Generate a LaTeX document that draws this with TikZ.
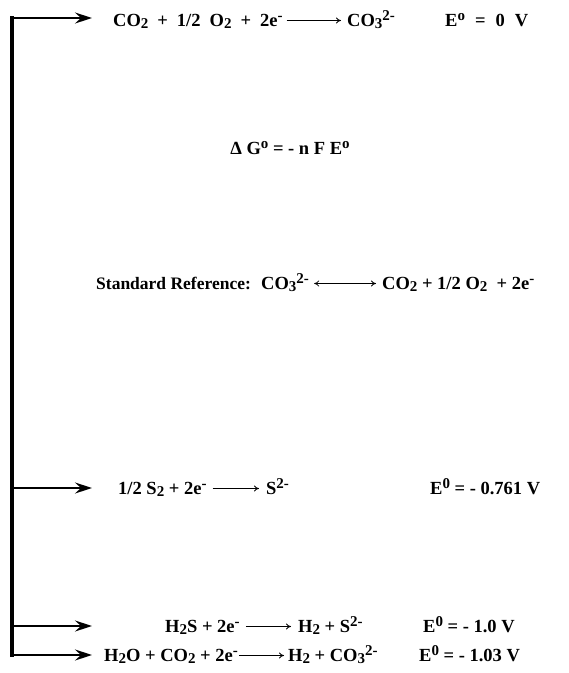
\documentclass[tikz,border=0pt]{standalone}
\usepackage{fontspec}
\setmainfont{Liberation Serif}
\usetikzlibrary{arrows.meta}
\newcommand\dn[1]{\raisebox{-0.35ex}{\fontsize{15}{15}\selectfont #1}}
\newcommand\up[1]{\raisebox{0.6ex}{\fontsize{15}{15}\selectfont #1}}
\newcommand\wsp{\spaceskip=9pt plus 2pt\relax}
\begin{document}
\begin{tikzpicture}[x=1pt,y=-1pt,
  txt/.style={font=\bfseries\fontsize{18.5}{22}\selectfont, inner sep=0pt, anchor=base west},
  branch/.style={line width=2pt, -{Stealth[length=17pt,width=11pt,inset=6pt]}},
  trunk/.style={line width=4pt},
  rxn/.style={line width=0.8pt, -{To[length=5pt,width=6pt]}},
  rxnb/.style={line width=0.8pt, {To[length=5pt,width=6pt]}-{To[length=5pt,width=6pt]}}]
\useasboundingbox (0,0) rectangle (569,673);
% trunk
\coordinate (ttop) at (12,16);
\coordinate (tbot) at (12,657);
\coordinate (b1) at (12,18);
\coordinate (b2) at (12,488);
\coordinate (b3) at (12,626);
\coordinate (b4) at (12,655);
\coordinate (h1) at (92,18);
\coordinate (h2) at (92,488);
\coordinate (h3) at (92,626);
\coordinate (h4) at (92,655);
\draw[trunk] (ttop) -- (tbot);
\draw[branch] (b1) -- (h1);
\draw[branch] (b2) -- (h2);
\draw[branch] (b3) -- (h3);
\draw[branch] (b4) -- (h4);
% row 1
\node[txt] (l1) at (113,26) {\wsp CO\dn{2} + 1/2 O\dn{2} + 2e\up{-}};
\node[txt] (r1) at (347,26) {CO\dn{3}\up{2-}};
\node[txt] (e1) at (445,26) {\spaceskip=10pt plus 2pt\relax E\up{o} = 0 V};
\draw[rxn] ([shift={(4,-5.5)}]l1.base east) -- ([shift={(-6,-5.5)}]r1.base west);
% Delta G
\node[txt, anchor=base] (dg) at (290,154) {Δ G\up{o} = - n F E\up{o}};
% standard reference
\node[txt, font=\bfseries\fontsize{17.5}{22}\selectfont] (s0) at (96,289) {Standard Reference:};
\node[txt] (s1) at (261,289) {CO\dn{3}\up{2-}};
\node[txt] (s2) at (382,289) {CO\dn{2} + 1/2 O\dn{2} \ + 2e\up{-}};
\draw[rxnb] ([shift={(5,-5.5)}]s1.base east) -- ([shift={(-6,-5.5)}]s2.base west);
% row S
\node[txt] (l2) at (118,494) {1/2 S\dn{2} + 2e\up{-}};
\node[txt] (r2) at (266,494) {S\up{2-}};
\node[txt] (e2) at (430,494) {E\up{0} = - 0.761 V};
\draw[rxn] ([shift={(6,-5.5)}]l2.base east) -- ([shift={(-7,-5.5)}]r2.base west);
% row H2S
\node[txt] (l3) at (165,632) {H\dn{2}S + 2e\up{-}};
\node[txt] (r3) at (298,632) {H\dn{2} + S\up{2-}};
\node[txt] (e3) at (423,632) {E\up{0} = - 1.0 V};
\draw[rxn] ([shift={(6,-5.5)}]l3.base east) -- ([shift={(-7,-5.5)}]r3.base west);
% row H2O
\node[txt] (l4) at (104,661) {H\dn{2}O + CO\dn{2} + 2e\up{-}};
\node[txt] (r4) at (288,661) {H\dn{2} + CO\dn{3}\up{2-}};
\node[txt] (e4) at (419,661) {E\up{0} = - 1.03 V};
\draw[rxn] ([shift={(1,-5.5)}]l4.base east) -- ([shift={(-4,-5.5)}]r4.base west);
\end{tikzpicture}
\end{document}
